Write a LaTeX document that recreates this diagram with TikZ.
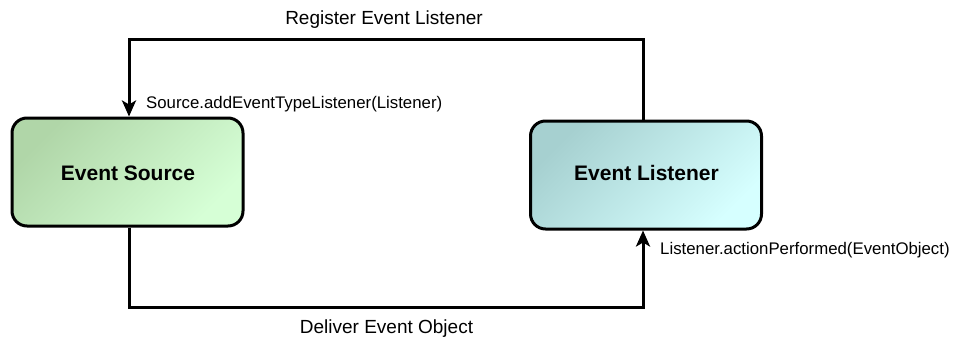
\documentclass[tikz,border=0pt]{standalone}
\usepackage{fontspec}
\setmainfont{Liberation Sans}
\usetikzlibrary{arrows.meta}
\definecolor{srcdark}{RGB}{176,214,168}
\definecolor{srclight}{RGB}{214,255,214}
\definecolor{lisdark}{RGB}{166,208,208}
\definecolor{lislight}{RGB}{214,255,255}
\begin{document}
\begin{tikzpicture}[x=1pt,y=1pt,
  box/.style={draw=black, line width=3pt, rounded corners=15pt, minimum width=231pt, minimum height=108pt, inner sep=0pt},
  boxtext/.style={font=\fontsize{21}{24}\selectfont\bfseries, anchor=base},
  conn/.style={line width=3pt, -{Stealth[length=16pt,width=14pt,inset=4pt]}},
  biglabel/.style={font=\fontsize{19}{22}\selectfont, anchor=base},
  smalllabel/.style={font=\fontsize{16.8}{20}\selectfont, anchor=base west, inner sep=0pt}
]
\useasboundingbox (0,0) rectangle (957,338);
\node[box, top color=srcdark, bottom color=srclight, shading angle=45] (src) at (127.5,166) {};
\node[box, top color=lisdark, bottom color=lislight, shading angle=45] (lis) at (646,163) {};
\node[boxtext] (srct) at (128,157.3) {Event Source};
\node[boxtext] (list) at (646.5,157.3) {Event Listener};
\coordinate (tl) at (129,298);
\coordinate (tr) at (643,298);
\coordinate (bl) at (129,31);
\coordinate (br) at (643,31);
\draw[conn] (lis.north -| tr) -- (tr) -- (tl) -- (src.north -| tl);
\draw[conn] (src.south -| bl) -- (bl) -- (br) -- (lis.south -| br);
\node[biglabel] (reg) at (384,313) {Register Event Listener};
\node[biglabel] (del) at (386.5,5) {Deliver Event Object};
\node[smalllabel] (add) at (146,229.3) {Source.addEventTypeListener(Listener)};
\node[smalllabel] (act) at (660,84) {Listener.actionPerformed(EventObject)};
\end{tikzpicture}
\end{document}
